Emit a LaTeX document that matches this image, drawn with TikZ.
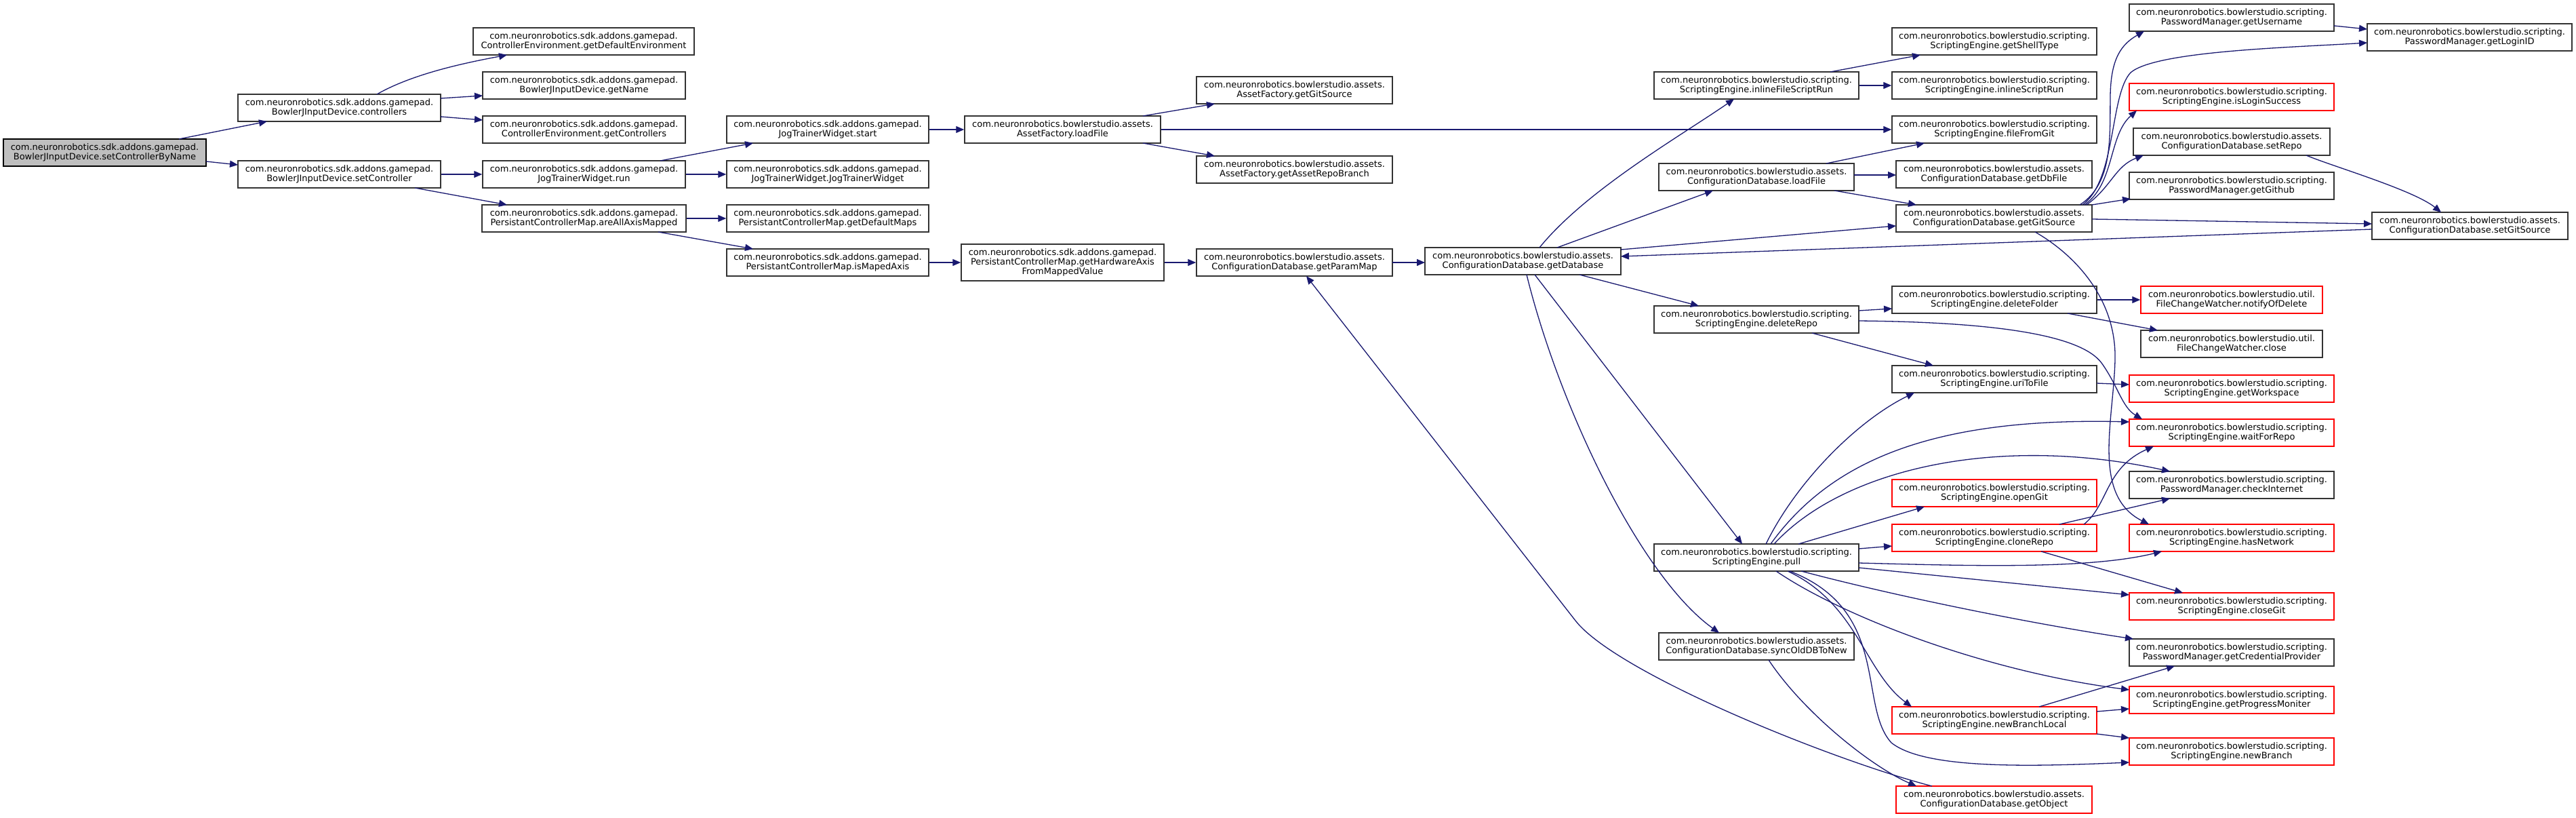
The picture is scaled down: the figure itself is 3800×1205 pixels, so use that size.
\documentclass[tikz,border=0pt]{standalone}
\usepackage{fontspec}
\setmainfont{DejaVu Sans}
\usetikzlibrary{arrows.meta}
\definecolor{edgeblue}{HTML}{191970}
\definecolor{rootgray}{HTML}{BFBFBF}
\newcommand\pkgsdk{com.neuronrobotics.sdk.addons.gamepad.}
\newcommand\pkgast{com.neuronrobotics.bowlerstudio.assets.}
\newcommand\pkgscr{com.neuronrobotics.bowlerstudio.scripting.}
\newcommand\pkgutl{com.neuronrobotics.bowlerstudio.util.}
\begin{document}
\begin{tikzpicture}[x=0.5pt,y=-0.5pt,
  fn/.style={draw=black!80, line width=0.75pt, fill=white, inner sep=0pt, align=center,
    minimum height=20pt, font=\fontsize{6.5pt}{7.15pt}\selectfont},
  trunc/.style={fn, draw=red},
  rootn/.style={fn, draw=black, fill=rootgray},
  edge/.style={draw=edgeblue, line width=0.65pt, -{Triangle[length=6pt,width=5pt]}}]
\path[use as bounding box, fill=white] (0,0) rectangle (3800,1205);

% nodes
\node[rootn, minimum width=149.5pt] (root) at (154.5,225) {\pkgsdk\\BowlerJInputDevice.setControllerByName};
\node[fn, minimum width=149.5pt] (ctrls) at (500.5,159) {\pkgsdk\\BowlerJInputDevice.controllers};
\node[fn, minimum width=149.5pt] (setc) at (500.5,257) {\pkgsdk\\BowlerJInputDevice.setController};
\node[fn, minimum width=163pt] (gde) at (861,61) {\pkgsdk\\ControllerEnvironment.getDefaultEnvironment};
\node[fn, minimum width=149.5pt] (gname) at (861.5,126) {\pkgsdk\\BowlerJInputDevice.getName};
\node[fn, minimum width=149.5pt] (gctrl) at (861.5,191) {\pkgsdk\\ControllerEnvironment.getControllers};
\node[fn, minimum width=149.5pt] (run) at (861.5,257) {\pkgsdk\\JogTrainerWidget.run};
\node[fn, minimum width=150.5pt] (aam) at (861.5,322) {\pkgsdk\\PersistantControllerMap.areAllAxisMapped};
\node[fn, minimum width=149pt] (start) at (1221,191) {\pkgsdk\\JogTrainerWidget.start};
\node[fn, minimum width=149pt] (jtw) at (1221,257) {\pkgsdk\\JogTrainerWidget.JogTrainerWidget};
\node[fn, minimum width=149pt] (gdm) at (1221,322) {\pkgsdk\\PersistantControllerMap.getDefaultMaps};
\node[fn, minimum width=149pt] (ima) at (1221,387) {\pkgsdk\\PersistantControllerMap.isMapedAxis};
\node[fn, minimum width=144.5pt] (aflf) at (1567.5,191) {\pkgast\\AssetFactory.loadFile};
\node[fn, minimum width=149.5pt, minimum height=27pt] (ghw) at (1567.5,387) {\pkgsdk\\PersistantControllerMap.getHardwareAxis\\FromMappedValue};
\node[fn, minimum width=144.5pt] (afgs) at (1909.5,133) {\pkgast\\AssetFactory.getGitSource};
\node[fn, minimum width=144.5pt] (garb) at (1909.5,250) {\pkgast\\AssetFactory.getAssetRepoBranch};
\node[fn, minimum width=144.5pt] (gpm) at (1909.5,387) {\pkgast\\ConfigurationDatabase.getParamMap};
\node[fn, minimum width=144.5pt] (gdb) at (2246.5,385) {\pkgast\\ConfigurationDatabase.getDatabase};
\node[fn, minimum width=151pt] (ifsr) at (2591,126) {\pkgscr\\ScriptingEngine.inlineFileScriptRun};
\node[fn, minimum width=144pt] (cdlf) at (2591,261) {\pkgast\\ConfigurationDatabase.loadFile};
\node[fn, minimum width=151pt] (drepo) at (2591,471) {\pkgscr\\ScriptingEngine.deleteRepo};
\node[fn, minimum width=151pt] (pull) at (2591,822) {\pkgscr\\ScriptingEngine.pull};
\node[fn, minimum width=144pt] (sync) at (2591,953) {\pkgast\\ConfigurationDatabase.syncOldDBToNew};
\node[fn, minimum width=151pt] (gst) at (2942,61) {\pkgscr\\ScriptingEngine.getShellType};
\node[fn, minimum width=151pt] (isr) at (2942,126) {\pkgscr\\ScriptingEngine.inlineScriptRun};
\node[fn, minimum width=151pt] (ffg) at (2942,191) {\pkgscr\\ScriptingEngine.fileFromGit};
\node[fn, minimum width=144.5pt] (gdbf) at (2941.5,257) {\pkgast\\ConfigurationDatabase.getDbFile};
\node[fn, minimum width=144.5pt] (ggs) at (2941.5,322) {\pkgast\\ConfigurationDatabase.getGitSource};
\node[fn, minimum width=151pt] (dfold) at (2942,442) {\pkgscr\\ScriptingEngine.deleteFolder};
\node[fn, minimum width=151pt] (u2f) at (2942,559) {\pkgscr\\ScriptingEngine.uriToFile};
\node[trunc, minimum width=151pt] (ogit) at (2942,727) {\pkgscr\\ScriptingEngine.openGit};
\node[trunc, minimum width=151pt] (clone) at (2942,793) {\pkgscr\\ScriptingEngine.cloneRepo};
\node[trunc, minimum width=151pt] (nbl) at (2942,1062) {\pkgscr\\ScriptingEngine.newBranchLocal};
\node[trunc, minimum width=144.5pt] (gobj) at (2941.5,1179) {\pkgast\\ConfigurationDatabase.getObject};
\node[fn, minimum width=151pt] (guser) at (3292,26) {\pkgscr\\PasswordManager.getUsername};
\node[fn, minimum width=151pt] (glid) at (3643,55) {\pkgscr\\PasswordManager.getLoginID};
\node[trunc, minimum width=151pt] (ils) at (3292,143) {\pkgscr\\ScriptingEngine.isLoginSuccess};
\node[fn, minimum width=145pt] (srepo) at (3292,209) {\pkgast\\ConfigurationDatabase.setRepo};
\node[fn, minimum width=151pt] (ggh) at (3292,274) {\pkgscr\\PasswordManager.getGithub};
\node[fn, minimum width=144.5pt] (sgs) at (3643.5,333) {\pkgast\\ConfigurationDatabase.setGitSource};
\node[trunc, minimum width=134pt] (nod) at (3292,442) {\pkgutl\\FileChangeWatcher.notifyOfDelete};
\node[fn, minimum width=134pt] (fcwc) at (3292,507) {\pkgutl\\FileChangeWatcher.close};
\node[trunc, minimum width=151pt] (gws) at (3292,573) {\pkgscr\\ScriptingEngine.getWorkspace};
\node[trunc, minimum width=151pt] (wfr) at (3292,638) {\pkgscr\\ScriptingEngine.waitForRepo};
\node[fn, minimum width=151pt] (cinet) at (3292,715) {\pkgscr\\PasswordManager.checkInternet};
\node[trunc, minimum width=151pt] (hnet) at (3292,793) {\pkgscr\\ScriptingEngine.hasNetwork};
\node[trunc, minimum width=151pt] (cgit) at (3292,894) {\pkgscr\\ScriptingEngine.closeGit};
\node[fn, minimum width=151pt] (gcp) at (3292,962) {\pkgscr\\PasswordManager.getCredentialProvider};
\node[trunc, minimum width=151pt] (gpmon) at (3292,1032) {\pkgscr\\ScriptingEngine.getProgressMoniter};
\node[trunc, minimum width=151pt] (nbr) at (3292,1108) {\pkgscr\\ScriptingEngine.newBranch};

% edges
\draw[edge] ([shift={(109.5,-20)}]root.center) -- ([shift={(-106.5,20)}]ctrls.center);
\draw[edge] ([shift={(149.5,13)}]root.center) -- ([shift={(-149.5,-14)}]setc.center);
\draw[edge] ([shift={(55.5,-20)}]ctrls.center) .. controls (610,108) and (690,92) .. ([shift={(-113,20)}]gde.center);
\draw[edge] ([shift={(149.5,-14)}]ctrls.center) -- ([shift={(-149.5,15)}]gname.center);
\draw[edge] ([shift={(149.5,13)}]ctrls.center) -- ([shift={(-149.5,-14)}]gctrl.center);
\draw[edge] (setc.east) -- (run.west);
\draw[edge] ([shift={(111.5,20)}]setc.center) -- ([shift={(-113.5,-20)}]aam.center);
\draw[edge] ([shift={(112.5,-20)}]run.center) -- ([shift={(-110,20)}]start.center);
\draw[edge] (run.east) -- (jtw.west);
\draw[edge] (aam.east) -- (gdm.west);
\draw[edge] ([shift={(109.5,20)}]aam.center) -- ([shift={(-110,-20)}]ima.center);
\draw[edge] (start.east) -- (aflf.west);
\draw[edge] ([shift={(118.5,-20)}]aflf.center) -- ([shift={(-117.5,20)}]afgs.center);
\draw[edge] ([shift={(118.5,20)}]aflf.center) -- ([shift={(-117.5,-20)}]garb.center);
\draw[edge] (aflf.east) -- (ffg.west);
\draw[edge] (ima.east) -- (ghw.west);
\draw[edge] (ghw.east) -- (gpm.west);
\draw[edge] ([shift={(144.5,0)}]gpm.center) -- ([shift={(-144.5,2)}]gdb.center);

\draw[edge] ([shift={(24.5,-20)}]gdb.center) .. controls (2340,280) and (2480,200) .. ([shift={(-33,20)}]ifsr.center);
\draw[edge] ([shift={(50.5,-20)}]gdb.center) -- ([shift={(-64,20)}]cdlf.center);
\draw[edge] ([shift={(144.5,-17)}]gdb.center) -- ([shift={(-144.5,11)}]ggs.center);
\draw[edge] ([shift={(-144.5,5)}]sgs.center) -- ([shift={(144.5,-7)}]gdb.center);
\draw[edge] ([shift={(83.5,20)}]gdb.center) -- ([shift={(-85,-20)}]drepo.center);
\draw[edge] ([shift={(17.5,20)}]gdb.center) -- ([shift={(-21,-20)}]pull.center);
\draw[edge] ([shift={(5.5,20)}]gdb.center) .. controls (2300,600) and (2420,850) .. ([shift={(-55,-20)}]sync.center);

\draw[edge] ([shift={(109,-20)}]ifsr.center) -- ([shift={(-109,20)}]gst.center);
\draw[edge] (ifsr.east) -- (isr.west);
\draw[edge] ([shift={(103,-20)}]cdlf.center) -- ([shift={(-103,20)}]ffg.center);
\draw[edge] ([shift={(144,-3)}]cdlf.center) -- ([shift={(-144.5,1)}]gdbf.center);
\draw[edge] ([shift={(115,20)}]cdlf.center) -- ([shift={(-114.5,-20)}]ggs.center);

\draw[edge] ([shift={(126.5,-20)}]ggs.center) .. controls (3118,270) and (3112,200) .. (3113,140) .. controls (3114,85) and (3130,65) .. ([shift={(-129,20)}]guser.center);
\draw[edge] ([shift={(130.5,-20)}]ggs.center) .. controls (3122,265) and (3112,140) .. (3143,107) .. controls (3180,75) and (3380,70) .. ([shift={(-151,8)}]glid.center);
\draw[edge] ([shift={(133.5,-20)}]ggs.center) .. controls (3120,270) and (3110,200) .. ([shift={(-140,20)}]ils.center);
\draw[edge] ([shift={(136.5,-20)}]ggs.center) .. controls (3115,275) and (3120,245) .. ([shift={(-130,20)}]srepo.center);
\draw[edge] ([shift={(144.5,-20)}]ggs.center) -- ([shift={(-149,19)}]ggh.center);
\draw[edge] ([shift={(144.5,1)}]ggs.center) -- ([shift={(-144.5,-3)}]sgs.center);
\draw[edge] ([shift={(110,20)}]srepo.center) .. controls (3440,245) and (3560,280) .. ([shift={(-42.5,-20)}]sgs.center);
\draw[edge] ([shift={(151,12)}]guser.center) -- ([shift={(-151,-12)}]glid.center);
\draw[edge] ([shift={(60.5,20)}]ggs.center) .. controls (3060,375) and (3122,440) .. (3120,530) .. controls (3118,620) and (3085,730) .. ([shift={(-122,-20)}]hnet.center);

\draw[edge] ([shift={(151,-13)}]drepo.center) -- ([shift={(-151,13)}]dfold.center);
\draw[edge] ([shift={(151,2)}]drepo.center) .. controls (2950,475) and (3070,495) .. (3100,535) .. controls (3125,570) and (3130,600) .. ([shift={(-132,-20)}]wfr.center);
\draw[edge] ([shift={(82,20)}]drepo.center) -- ([shift={(-90,-20)}]u2f.center);
\draw[edge] (dfold.east) -- (nod.west);
\draw[edge] ([shift={(108,20)}]dfold.center) -- ([shift={(-109,-20)}]fcwc.center);
\draw[edge] ([shift={(151,6)}]u2f.center) -- ([shift={(-151,-6)}]gws.center);

\draw[edge] ([shift={(14,-20)}]pull.center) .. controls (2650,710) and (2740,620) .. ([shift={(-118,20)}]u2f.center);
\draw[edge] ([shift={(21,-20)}]pull.center) .. controls (2700,680) and (2850,615) .. ([shift={(-151,-16)}]wfr.center);
\draw[edge] ([shift={(26,-20)}]pull.center) .. controls (2720,690) and (2950,640) .. ([shift={(-91,-20)}]cinet.center);
\draw[edge] ([shift={(62,-20)}]pull.center) -- ([shift={(-103,20)}]ogit.center);
\draw[edge] ([shift={(151,-13)}]pull.center) -- ([shift={(-151,12)}]clone.center);
\draw[edge] ([shift={(151,8)}]pull.center) .. controls (2900,834) and (3080,840) .. ([shift={(-103,20)}]hnet.center);
\draw[edge] ([shift={(151,15)}]pull.center) -- ([shift={(-151,-17)}]cgit.center);
\draw[edge] ([shift={(66,20)}]pull.center) .. controls (2800,880) and (3000,920) .. ([shift={(-145,-20)}]gcp.center);
\draw[edge] ([shift={(29,20)}]pull.center) .. controls (2720,910) and (2930,990) .. ([shift={(-151,-15)}]gpmon.center);
\draw[edge] ([shift={(46,20)}]pull.center) .. controls (2740,890) and (2750,990) .. ([shift={(-122,-20)}]nbl.center);
\draw[edge] ([shift={(49,20)}]pull.center) .. controls (2790,900) and (2740,1040) .. (2790,1095) .. controls (2840,1135) and (3000,1130) .. ([shift={(-151,16)}]nbr.center);

\draw[edge] ([shift={(132,-20)}]clone.center) .. controls (3110,745) and (3105,690) .. ([shift={(-115,20)}]wfr.center);
\draw[edge] ([shift={(96,-20)}]clone.center) -- ([shift={(-91,20)}]cinet.center);
\draw[edge] ([shift={(69,20)}]clone.center) -- ([shift={(-72,-20)}]cgit.center);
\draw[edge] ([shift={(66,-20)}]nbl.center) -- ([shift={(-84,20)}]gcp.center);
\draw[edge] ([shift={(151,-13)}]nbl.center) -- ([shift={(-151,13)}]gpmon.center);
\draw[edge] ([shift={(151,20)}]nbl.center) -- ([shift={(-151,-20)}]nbr.center);
\draw[edge] ([shift={(18,20)}]sync.center) .. controls (2660,1050) and (2760,1130) .. ([shift={(-114.5,-20)}]gobj.center);
\draw[edge] ([shift={(-91.5,-20)}]gobj.center) .. controls (2700,1120) and (2384,992) .. (2324,915) -- ([shift={(17.5,20)}]gpm.center);
\end{tikzpicture}
\end{document}
